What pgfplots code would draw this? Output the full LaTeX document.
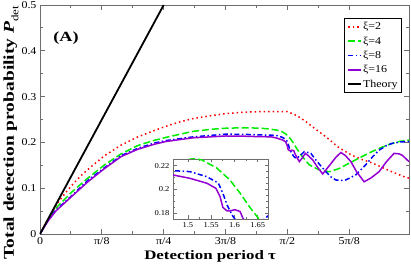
\documentclass[border=0pt]{standalone}
\usepackage{fontspec}
\setmainfont{Liberation Serif}[FakeStretch=1.14]
\newfontfamily\labfont{Liberation Serif}[FakeStretch=1.3]
\usepackage{pgfplots}
\pgfplotsset{compat=1.18}
\usepackage{pgfplotstable}

\definecolor{xired}{RGB}{255,0,0}
\definecolor{xigreen}{RGB}{0,235,0}
\definecolor{xiblue}{RGB}{0,0,255}
\definecolor{xiviolet}{RGB}{148,0,211}
\definecolor{framec}{RGB}{110,110,110}

\pgfplotstableread{
x y
0 0
0.05 0.031
0.1 0.061
0.125 0.074
0.177 0.096
0.22 0.113
0.262 0.128
0.325 0.147
0.41 0.171
0.515 0.194
0.621 0.212
0.726 0.226
0.79 0.234
0.88 0.244
0.971 0.252
1.08 0.258
1.182 0.263
1.3 0.266
1.393 0.267
1.5 0.267
1.571 0.267
1.61 0.262
1.647 0.255
1.69 0.245
1.73 0.234
1.82 0.211
1.9 0.188
1.98 0.172
2.05 0.162
2.11 0.155
2.24 0.135
2.32 0.124
2.343 0.122
}\xiA

\pgfplotstableread{
x y
0 0
0.05 0.030
0.1 0.056
0.2 0.091
0.3 0.121
0.41 0.151
0.515 0.175
0.62 0.193
0.73 0.205
0.8 0.211
0.97 0.224
1.1 0.229
1.18 0.231
1.3 0.232
1.4 0.231
1.45 0.2295
1.5 0.227
1.53 0.2248
1.562 0.218
1.59 0.208
1.612 0.197
1.633 0.185
1.655 0.174
1.68 0.163
1.71 0.151
1.773 0.140
1.837 0.136
1.9 0.143
1.96 0.154
2.027 0.166
2.09 0.177
2.153 0.187
2.22 0.196
2.28 0.202
2.343 0.205
}\xiB

\pgfplotstableread{
x y
0 0
0.05 0.029
0.1 0.052
0.2 0.083
0.3 0.116
0.41 0.145
0.515 0.171
0.62 0.187
0.73 0.199
0.8 0.204
0.97 0.212
1.18 0.218
1.3 0.2175
1.393 0.2165
1.468 0.2158
1.504 0.215
1.54 0.2108
1.565 0.2055
1.575 0.197
1.584 0.187
1.595 0.1785
1.61 0.170
1.625 0.165
1.65 0.170
1.678 0.180
1.70 0.178
1.72 0.176
1.76 0.158
1.815 0.136
1.85 0.124
1.878 0.118
1.91 0.117
1.942 0.118
2.005 0.129
2.068 0.151
2.11 0.168
2.153 0.183
2.2 0.193
2.237 0.198
2.29 0.201
2.343 0.202
}\xiC

\pgfplotstableread{
x y
0 0
0.05 0.028
0.1 0.050
0.198 0.081
0.304 0.114
0.41 0.143
0.515 0.169
0.621 0.185
0.726 0.196
0.8 0.202
0.97 0.210
1.18 0.214
1.3 0.2135
1.393 0.2125
1.468 0.2122
1.504 0.2094
1.541 0.2052
1.56 0.201
1.569 0.194
1.575 0.185
1.584 0.182
1.593 0.1822
1.601 0.183
1.612 0.1815
1.618 0.176
1.633 0.166
1.647 0.158
1.665 0.166
1.685 0.176
1.70 0.172
1.731 0.162
1.76 0.147
1.795 0.131
1.82 0.142
1.848 0.154
1.88 0.168
1.911 0.178
1.94 0.171
1.974 0.158
2.01 0.136
2.058 0.114
2.10 0.122
2.153 0.136
2.2 0.158
2.248 0.176
2.28 0.175
2.30 0.172
2.343 0.158
}\xiD

\pgfplotstableread{
x y
0 0
0.785398 0.5
}\theory

\tikzset{
 s2/.style={xired, line width=1.5bp, dash pattern=on 1.5bp off 3bp},
 s4/.style={xigreen, line width=1.5bp, dash pattern=on 7bp off 3bp},
 s8/.style={xiblue, line width=1.5bp, dash pattern=on 5bp off 2.5bp on 1.5bp off 2.5bp},
 s16/.style={xiviolet, line width=1.5bp},
 sth/.style={black, line width=1.8bp},
}

\begin{document}
\begin{tikzpicture}
\begin{axis}[
 at={(0,0)}, anchor=south west, name=main,
 width=369bp, height=229bp, scale only axis,
 xmin=0, xmax=2.343, ymin=0, ymax=0.5,
 xtick={0,0.392699,0.785398,1.178097,1.570796,1.963495},
 xticklabels={0,π/8,π/4,3π/8,π/2,5π/8},
 minor x tick num=1,
 ytick={0,0.1,0.2,0.3,0.4,0.5},
 yticklabels={0,0.1,0.2,0.3,0.4,0.5},
 minor y tick num=1,
 tick align=inside,
 major tick length=5bp, minor tick length=3bp,
 axis line style={framec, line width=0.9bp},
 every tick/.style={framec, line width=0.9bp},
 tick label style={font=\fontsize{10.5bp}{12bp}\selectfont},
 /pgf/number format/assume math mode=true,
 xlabel={Detection period τ},
 ylabel={Total detection probability \textit{P}\raisebox{-0.3em}{\fontsize{10bp}{10bp}\selectfont\mdseries det}},
 every axis x label/.style={at={(axis description cs:0.461,0)}, yshift=-22bp, anchor=center, font=\labfont\bfseries\fontsize{13bp}{15bp}\selectfont},
 every axis y label/.style={at={(axis description cs:0,0.443)}, xshift=-29bp, rotate=90, anchor=center, font=\labfont\bfseries\fontsize{15bp}{16bp}\selectfont},
 legend style={at={(rel axis cs:0.981,0.943)}, anchor=north east, draw=black, line width=0.8bp,
   font=\fontsize{10.5bp}{12bp}\selectfont, row sep=3.5bp, inner xsep=3bp, inner ysep=3bp,
   nodes={inner sep=1bp}},
 legend cell align=left,
 legend image code/.code={\draw[#1] (0bp,0bp) -- (13bp,0bp);},
]
\addplot[s2] table[x=x,y=y] {\xiA};
\addlegendentry{ξ=2}
\addplot[s4] table[x=x,y=y] {\xiB};
\addlegendentry{ξ=4}
\addplot[s8] table[x=x,y=y] {\xiC};
\addlegendentry{ξ=8}
\addplot[s16] table[x=x,y=y] {\xiD};
\addlegendentry{ξ=16}
\addplot[sth] table[x=x,y=y] {\theory};
\addlegendentry{Theory}
\node[font=\labfont\bfseries\fontsize{14bp}{16bp}\selectfont] at (axis cs:0.165,0.428) {(A)};
\end{axis}
\begin{axis}[
 at={(133bp,15bp)}, anchor=south west,
 width=95bp, height=60bp, scale only axis,
 xmin=1.468, xmax=1.672, ymin=0.1752, ymax=0.2256,
 xtick={1.5,1.55,1.6,1.65}, xticklabels={1.5,1.55,1.6,1.65},
 ytick={0.18,0.2,0.22}, yticklabels={0.18,0.2,0.22},
 minor x tick num=1, minor y tick num=3,
 tick align=inside,
 major tick length=3.5bp, minor tick length=2bp,
 axis line style={framec, line width=0.9bp},
 every tick/.style={framec, line width=0.8bp},
 tick label style={font=\fontsize{7.5bp}{9bp}\selectfont},
 /pgf/number format/assume math mode=true,
 axis background/.style={fill=white},
]
\addplot[s4] table[x=x,y=y] {\xiB};
\addplot[s8] table[x=x,y=y] {\xiC};
\addplot[s16] table[x=x,y=y] {\xiD};
\end{axis}
\pgfresetboundingbox
\path[use as bounding box] (-40bp,-30bp) rectangle (371bp,234bp);
\end{tikzpicture}
\end{document}
